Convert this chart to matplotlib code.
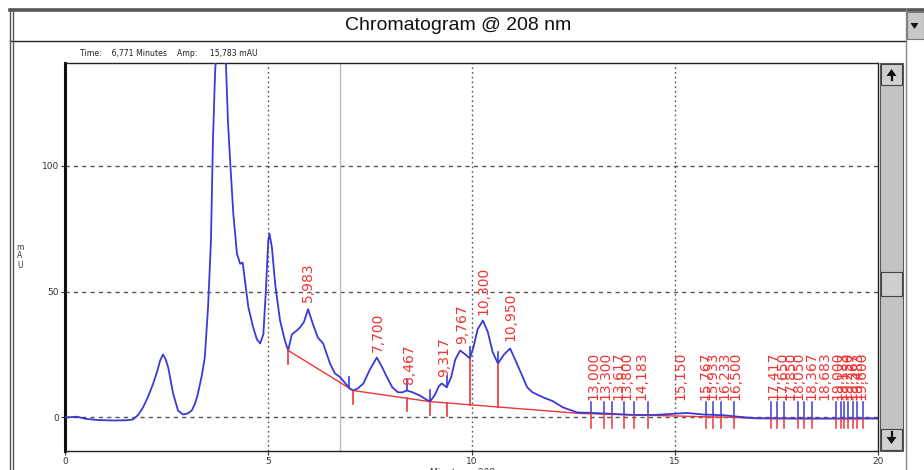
import numpy as np
import matplotlib
matplotlib.use("Agg")
import matplotlib.pyplot as plt
from matplotlib.patches import Rectangle, Polygon

# ---------------- data ----------------
T1 = [0, 0.3, 0.5, 0.8, 1.2, 1.5, 1.67, 1.8, 1.92, 2.05]
Y1 = [0, 0.3, -0.5, -1, -1.2, -1.1, -0.8, 1, 4, 8.5]
T2 = [2.17, 2.28, 2.34, 2.41, 2.48, 2.54, 2.66, 2.78, 2.9, 3.02]
Y2 = [13.5, 19, 22.6, 25, 23, 19.8, 9.5, 2.8, 1.2, 1.6]
T3 = [3.12, 3.2, 3.27, 3.37, 3.44, 3.52, 3.59, 3.64, 3.69, 3.75]
Y3 = [2.8, 5.5, 9.5, 17, 24, 44, 70, 110, 136, 155]
T4 = [3.82, 3.9, 3.96, 4.01, 4.08, 4.14, 4.23, 4.31, 4.37, 4.43]
Y4 = [160, 152, 140, 117, 97, 81, 65, 61, 61.5, 54]
T5 = [4.51, 4.63, 4.72, 4.8, 4.88, 4.94, 5.0, 5.03, 5.09, 5.17]
Y5 = [43.8, 35.7, 31, 29.4, 33, 50, 70, 73, 67.5, 53]
T6 = [5.29, 5.41, 5.49, 5.58, 5.7, 5.78, 5.88, 5.98, 6.1, 6.22]
Y6 = [38.5, 30.5, 26.6, 33, 34.5, 35.7, 38, 43, 37, 31.7]
T7 = [6.35, 6.52, 6.64, 6.77, 6.9, 7.0, 7.09, 7.2, 7.34, 7.5]
Y7 = [29.4, 21.4, 17.5, 16, 13.5, 11.5, 10.7, 11.5, 13.5, 19]
T8 = [7.67, 7.8, 7.92, 8.05, 8.19, 8.3, 8.41, 8.55, 8.73, 8.9]
Y8 = [23.8, 20, 16, 12, 10, 10, 10.7, 10, 8.7, 7]
T9 = [8.98, 9.1, 9.2, 9.27, 9.39, 9.5, 9.6, 9.72, 9.85, 9.96]
Y9 = [6.3, 9, 12.5, 13.5, 12, 16, 23, 26.6, 25, 23.4]
T10 = [10.05, 10.15, 10.28, 10.4, 10.52, 10.65, 10.8, 10.95, 11.1, 11.19]
Y10 = [28, 35, 38.5, 34, 26, 21.4, 25, 27.4, 22, 18.7]
T11 = [11.37, 11.5, 11.76, 12.0, 12.25, 12.6, 13.0, 13.5, 14.0, 14.5]
Y11 = [12, 10, 8, 6.5, 4, 2, 1.8, 1.4, 1.0, 1.0]
T12 = [15.0, 15.3, 15.7, 16.2, 16.5, 17.0, 18.0, 19.0, 20.0]
Y12 = [1.5, 1.8, 1.2, 0.9, 0.4, -0.3, -0.4, -0.4, -0.3]

time = np.array(T1 + T2 + T3 + T4 + T5 + T6 + T7 + T8 + T9 + T10 + T11 + T12)
signal = np.array(Y1 + Y2 + Y3 + Y4 + Y5 + Y6 + Y7 + Y8 + Y9 + Y10 + Y11 + Y12)

# integration baseline
base_t = [5.49, 7.09, 8.98, 12.67, 15.0, 16.5, 17.0, 20.0]
base_y = [26.6, 10.7, 6.3, 1.6, 0.6, 0.0, -0.4, -0.5]

# labelled peaks (retention times, min)
peak_times = [5.983, 7.700, 8.467, 9.317, 9.767, 10.300, 10.950,
              13.000, 13.300, 13.617, 13.800, 14.183, 15.150,
              15.767, 15.933, 16.233, 16.500,
              17.417, 17.650, 17.850, 18.050, 18.367, 18.683,
              19.000, 19.133, 19.250, 19.367, 19.483, 19.600]

# peak start / end event marks
start_marks = [6.99, 8.41, 8.98, 9.39, 9.96, 10.65]
end_marks = [5.49, 7.09, 8.41, 8.98, 9.39]
drop_lines = [9.96, 10.65]
cluster_marks = [12.93, 13.25, 13.45, 13.74, 13.99, 14.33, 15.76, 15.94,
                 16.13, 16.45, 17.36, 17.51, 17.68, 18.03, 18.18, 18.37,
                 18.97, 19.09, 19.16, 19.26, 19.38, 19.48, 19.63]

x_ticks = [0, 5, 10, 15, 20]
y_ticks = [0, 50, 100]
cursor_time = 6.771
cursor_amp = 15.783

# ---------------- figure ----------------
W, H = 924, 470
fig = plt.figure(figsize=(W / 100, H / 100), dpi=100)
fig.patch.set_facecolor("white")

def fx(px):
    return px / W

def fy(py):
    return 1 - py / H

ax_l, ax_r, ax_t, ax_b = 65, 878, 62.5, 451
ax = fig.add_axes([fx(ax_l), fy(ax_b), (ax_r - ax_l) / W, (ax_b - ax_t) / H])
ax.set_xlim(0, 20)
ax.set_ylim(-13.3, 140.9)

blue = "#3a3ad6"
red = "#f03434"

# grid
for g in [5, 10, 15]:
    ax.axvline(g, color="#555555", lw=1.0, ls=(0, (1.2, 2.2)), zorder=1)
for g in y_ticks:
    ax.axhline(g, color="#555555", lw=1.0, ls=(0, (3, 3)), zorder=1)
# cursor
ax.axvline(cursor_time, color="#bcbcbc", lw=1.0, zorder=1)

# chromatogram
ax.plot(time, signal, color=blue, lw=1.3, zorder=4, clip_on=True)
# baseline
ax.plot(base_t, base_y, color=red, lw=1.0, zorder=3)

def curve(t):
    return np.interp(t, time, signal)

def base(t):
    return np.interp(t, base_t, base_y)

for t in start_marks:
    c = curve(t)
    ax.plot([t, t], [c + 0.3, c + 4.5], color=blue, lw=1.2, zorder=5)
for t in end_marks:
    b = base(t)
    ax.plot([t, t], [b, b - 5.2], color=red, lw=1.2, zorder=5)
for t in drop_lines:
    ax.plot([t, t], [base(t), curve(t)], color=red, lw=1.2, zorder=5)
for t in cluster_marks:
    b = base(t)
    ax.plot([t, t], [b + 0.3, 6.3], color=blue, lw=1.1, zorder=5)
    ax.plot([t, t], [b, -4.3], color=red, lw=1.1, zorder=5)

for t in peak_times:
    yb = max(curve(t) + 3.0, 6.8)
    ax.text(t, yb, f"{t:.3f}".replace(".", ","), rotation=90, ha="center",
            va="bottom", color=red, fontsize=10, family="DejaVu Sans",
            zorder=6)

ax.set_xticks(x_ticks)
ax.set_yticks(y_ticks)
ax.set_xticklabels([str(v) for v in x_ticks], fontsize=6.5, color="#333333")
ax.set_yticklabels([str(v) for v in y_ticks], fontsize=6.5, color="#333333")
ax.tick_params(axis="both", length=3, width=0.8, pad=1.5, color="#333333")
ax.set_xlabel("Minutes -- 208 nm", fontsize=6.5, color="#333333", labelpad=1)
for s in ["top", "right", "bottom"]:
    ax.spines[s].set_color("#222222")
    ax.spines[s].set_linewidth(1.0)
ax.spines["left"].set_color("#111111")
ax.spines["left"].set_linewidth(2.2)
ax.spines["left"].set_linestyle((0, (1.2, 0.8)))

# ---------------- window decorations (pixel space) ----------------
deco = fig.add_axes([0, 0, 1, 1], zorder=-5)
deco.set_xlim(0, W)
deco.set_ylim(H, 0)
deco.axis("off")

# title bar
deco.add_patch(Rectangle((11, 9), 895, 31, facecolor="white", edgecolor="none"))
deco.plot([10, 924], [9.5, 9.5], color="#555555", lw=2.6)
deco.plot([10, 906], [40.5, 40.5], color="#222222", lw=1.0)
deco.plot([10.2, 10.2], [9, 470], color="#555555", lw=1.0)
deco.plot([13.2, 13.2], [9, 470], color="#555555", lw=1.0)
deco.plot([905.5, 905.5], [9, 470], color="#888888", lw=1.0)
deco.text(458, 25.5, "Chromatogram @ 208 nm", ha="center", va="center",
          fontsize=14, family=["Liberation Sans Narrow", "Liberation Sans", "DejaVu Sans"],
          color="#111111")
# dropdown button
deco.add_patch(Rectangle((906.5, 12), 17, 27, facecolor="#c8c8c8", edgecolor="#777777", lw=0.8))
deco.add_patch(Polygon([[910.5, 23], [918.5, 23], [914.5, 29]], closed=True, facecolor="#111111"))

deco.text(80, 54, f"Time:    {cursor_time:.3f}".replace(".", ",") + " Minutes    Amp:     "
          + f"{cursor_amp:.3f}".replace(".", ",") + " mAU",
          ha="left", va="center", fontsize=5.6, color="#222222")

# y label stacked
deco.text(20, 256, "m\nA\nU", ha="center", va="center", fontsize=5.5,
          color="#333333", linespacing=1.0)

# scrollbar
sx0, sx1, sy0, sy1 = 880, 903, 62.5, 451
deco.add_patch(Rectangle((sx0, sy0), sx1 - sx0, sy1 - sy0, facecolor="#c3c3c3",
                         edgecolor="#555555", lw=0.8))
for (by0, by1) in [(sy0, sy0 + 23), (sy1 - 23, sy1)]:
    deco.add_patch(Rectangle((sx0 + 1, by0 + 1), sx1 - sx0 - 2, by1 - by0 - 2,
                             facecolor="#d0d0d0", edgecolor="#444444", lw=0.8))
deco.add_patch(Rectangle((sx0 + 1, 272), sx1 - sx0 - 2, 24, facecolor="#cfcfcf",
                         edgecolor="#444444", lw=0.8))
# arrows
deco.add_patch(Polygon([[886.5, 76], [896.5, 76], [891.5, 69]], closed=True, facecolor="#111111"))
deco.plot([891.5, 891.5], [75, 80], color="#111111", lw=1.6)
deco.add_patch(Polygon([[886.5, 437], [896.5, 437], [891.5, 444]], closed=True, facecolor="#111111"))
deco.plot([891.5, 891.5], [432, 438], color="#111111", lw=1.6)

fig.savefig("out.png", dpi=100)
